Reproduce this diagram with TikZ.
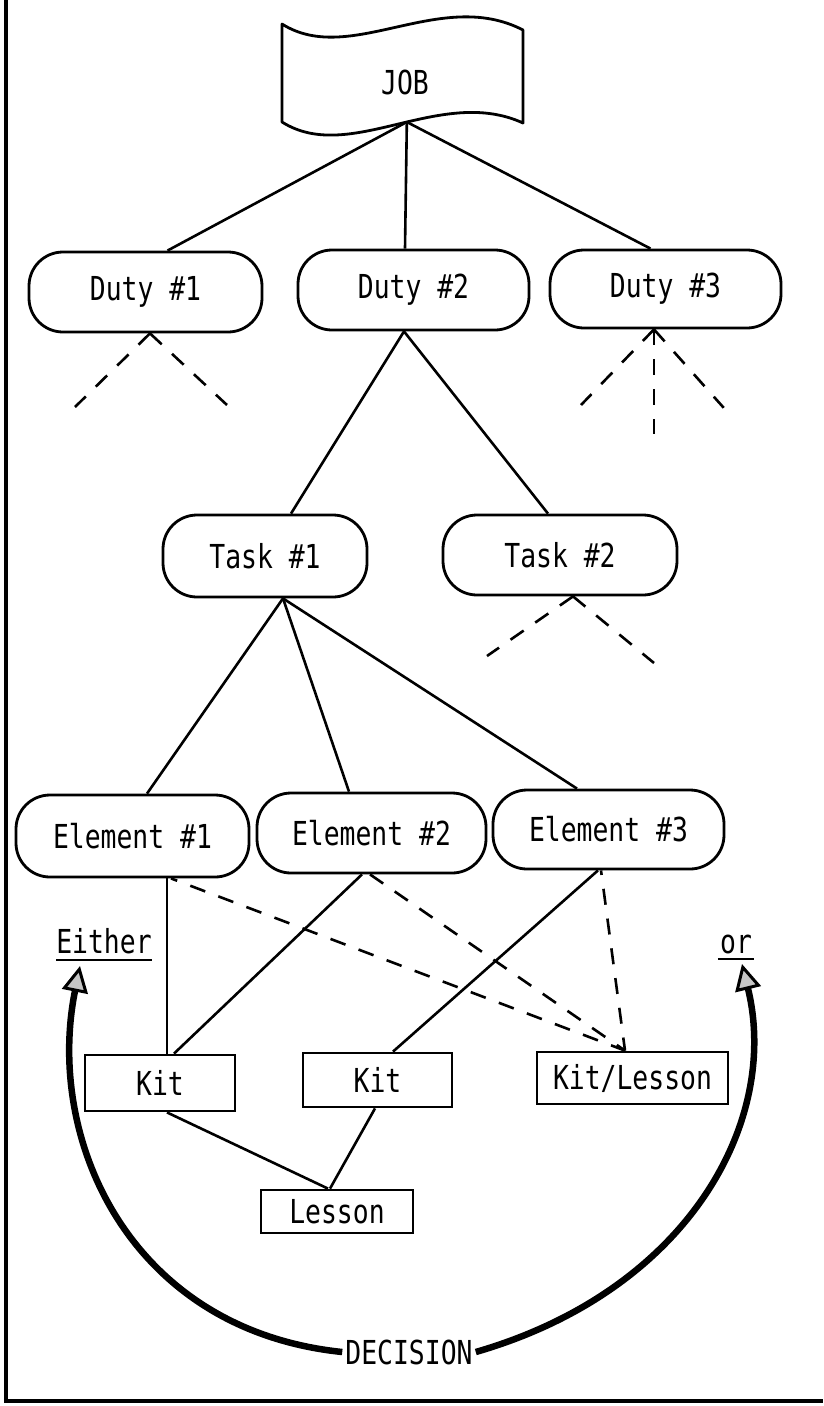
\documentclass[tikz,border=0pt]{standalone}
\usepackage{fontspec}
\newfontfamily\typew[FakeStretch=0.8]{DejaVu Sans Mono}
\usetikzlibrary{arrows.meta}
\begin{document}
\begin{tikzpicture}[x=1pt,y=-1pt,
  lbl/.style={font=\typew\fontsize{33}{38}\selectfont, inner sep=0pt},
  pill/.style={lbl, draw, line width=2.8pt, rounded corners=34pt},
  boxr/.style={lbl, draw, line width=2.8pt},
  link/.style={line width=2.6pt},
  dlink/.style={line width=2.6pt, dash pattern=on 16pt off 14pt},
  bigarrow/.style={line width=6.5pt, -{Triangle[length=26pt,width=26pt,fill=gray!45,line width=3pt]}}]
\useasboundingbox (0,0) rectangle (823,1406);
% frame
\draw[line width=3.5pt] (6,0) -- (6,1401) -- (823,1401);
% JOB flag
\draw[line width=2.8pt, line join=round] (282,24) .. controls (350,67) and (440,-13) .. (523,30) -- (523,123)
  .. controls (440,85) and (350,165) .. (282,122) -- cycle;
\path (282,122) .. controls (350,165) and (440,85) .. (523,123) coordinate[pos=0.54] (jb);
\node[lbl] (job) at (405,82) {JOB};
% duties
\node[pill, minimum width=233pt, minimum height=80pt] (duty1) at (145.5,292) {Duty \#1};
\node[pill, minimum width=231pt, minimum height=80pt] (duty2) at (413.5,290) {Duty \#2};
\node[pill, minimum width=231pt, minimum height=78pt] (duty3) at (665.5,289) {Duty \#3};
% tasks
\node[pill, minimum width=204pt, minimum height=82pt] (task1) at (265,556) {Task \#1};
\node[pill, minimum width=234pt, minimum height=80pt] (task2) at (560,555) {Task \#2};
% elements
\node[pill, minimum width=233pt, minimum height=82pt] (el1) at (132.5,836) {Element \#1};
\node[pill, minimum width=229pt, minimum height=80pt] (el2) at (371.5,833) {Element \#2};
\node[pill, minimum width=231pt, minimum height=79pt] (el3) at (608.5,829.5) {Element \#3};
% kits
\node[boxr, minimum width=150pt, minimum height=56pt] (kit1) at (160,1083) {Kit};
\node[boxr, minimum width=149pt, minimum height=54pt] (kit2) at (377.5,1080) {Kit};
\node[boxr, minimum width=191pt, minimum height=52pt] (kl) at (632.5,1078) {Kit/Lesson};
\node[boxr, minimum width=152pt, minimum height=43pt] (lesson) at (337,1211.5) {Lesson};
% labels
\node[lbl, anchor=base] (either) at (104,953) {Either};
\node[lbl, anchor=base] (or) at (736,953) {or};
\draw[line width=2.8pt] ([yshift=-7pt]either.base west) -- ([yshift=-7pt]either.base east);
\draw[line width=2.8pt] ([xshift=-2pt,yshift=-6pt]or.base west) -- ([xshift=2pt,yshift=-6pt]or.base east);
\node[lbl, inner sep=3pt] (dec) at (409,1352) {DECISION};
% job links
\draw[link] (jb) -- ([xshift=22pt]duty1.north);
\draw[link] (jb) -- ([xshift=-8.5pt]duty2.north);
\draw[link] (jb) -- ([xshift=-15pt]duty3.north);
% duty 1 dashed
\coordinate (d1a) at (75,407);
\coordinate (d1b) at (227,405);
\draw[dlink] ([xshift=4.5pt]duty1.south) -- (d1a);
\draw[dlink] ([xshift=4.5pt]duty1.south) -- (d1b);
% duty 3 dashed
\coordinate (d3a) at (581,405);
\coordinate (d3b) at (654,434);
\coordinate (d3c) at (723.7,407.8);
\draw[dlink] ([xshift=-11.5pt]duty3.south) -- (d3a);
\draw[dlink] ([xshift=-11.5pt]duty3.south) -- (d3b);
\draw[dlink] ([xshift=-11.5pt]duty3.south) -- (d3c);
% duty 2 to tasks
\draw[link] ([xshift=-9.5pt]duty2.south) -- ([xshift=26pt]task1.north);
\draw[link] ([xshift=-9.5pt]duty2.south) -- ([xshift=-12pt]task2.north);
% task 2 dashed
\coordinate (t2a) at (487,656);
\coordinate (t2b) at (654,663);
\draw[dlink] ([xshift=13pt]task2.south) -- (t2a);
\draw[dlink] ([xshift=13pt]task2.south) -- (t2b);
% task 1 to elements
\draw[link] ([xshift=18pt]task1.south) -- ([xshift=14.5pt]el1.north);
\draw[link] ([xshift=18pt]task1.south) -- ([xshift=-22.5pt]el2.north);
\draw[link] ([xshift=18pt]task1.south) -- ([xshift=-31.5pt]el3.north);
% elements to kits
\draw[link] ([xshift=34.5pt]el1.south) -- ([xshift=7pt]kit1.north);
\draw[link] ([xshift=-9.5pt]el2.south) -- ([xshift=14pt]kit1.north);
\draw[link] ([xshift=-10.5pt]el3.south) -- ([xshift=15.5pt]kit2.north);
\draw[dlink, dash phase=9.4pt] ([xshift=38.5pt]el1.south) -- ([xshift=-7.5pt]kl.north);
\draw[dlink] ([xshift=-1.5pt]el2.south) -- ([xshift=-7.5pt]kl.north);
\draw[dlink, dash phase=11.4pt] ([xshift=-7.5pt]el3.south) -- ([xshift=-7.5pt]kl.north);
% kits to lesson
\draw[link] ([xshift=7pt]kit1.south) -- ([xshift=-9pt]lesson.north);
\draw[link] ([xshift=-2.5pt]kit2.south) -- ([xshift=-7pt]lesson.north);
% decision arrows
\coordinate (eitip) at (80,966);
\coordinate (ortip) at (742,964);
\draw[bigarrow] (dec.west) .. controls (130,1330) and (45,1140) .. (eitip);
\draw[bigarrow] (dec.east) .. controls (690,1290) and (780,1120) .. (ortip);
\end{tikzpicture}
\end{document}
